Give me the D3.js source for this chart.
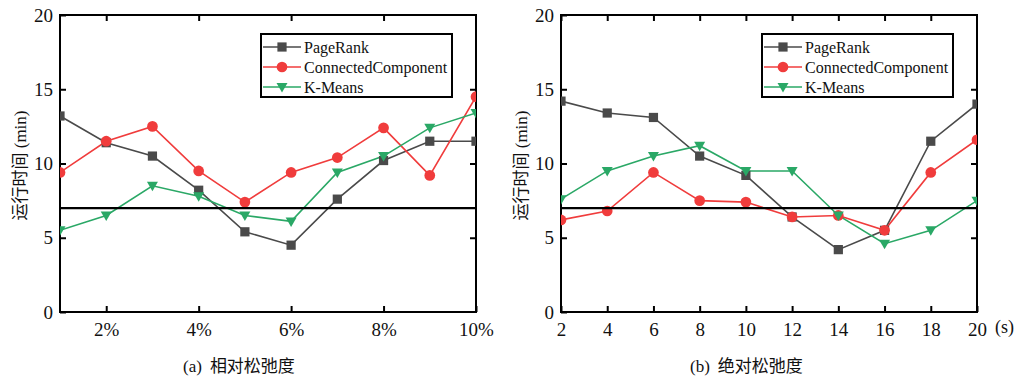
<!DOCTYPE html>
<html>
  <head>
    <meta charset="utf-8">
    <title> slack runtime </title>
    <script src="https://cdn.jsdelivr.net/npm/d3@7"></script>
    <style>
      body { margin: 0; background: #fff; }
      text { font-family: "Liberation Serif", "Noto Sans CJK SC", serif; fill: #111; }
      .cjk { font-family: "Noto Sans CJK SC", sans-serif; }
      .axis path { display: none; }
      .axis line { stroke: #000; stroke-width: 2; }
    </style>
  </head>
  <body>
    <script>
      // data
      var seriesNames = ['PageRank', 'ConnectedComponent', 'K-Means'];
      var seriesColors = ['#4a4a4a', '#f03c3c', '#2aa866'];

      var relX = [1, 2, 3, 4, 5, 6, 7, 8, 9, 10];
      var relPageRank = [13.2, 11.4, 10.5, 8.2, 5.4, 4.5, 7.6, 10.2, 11.5, 11.5];
      var relConnected = [9.4, 11.5, 12.5, 9.5, 7.4, 9.4, 10.4, 12.4, 9.2, 14.5];
      var relKMeans = [5.5, 6.5, 8.5, 7.8, 6.5, 6.1, 9.4, 10.5, 12.4, 13.4];
      var relTicks = [2, 4, 6, 8, 10];

      var absX = [2, 4, 6, 8, 10, 12, 14, 16, 18, 20];
      var absPageRank = [14.2, 13.4, 13.1, 10.5, 9.2, 6.4, 4.2, 5.5, 11.5, 14.0];
      var absConnected = [6.2, 6.8, 9.4, 7.5, 7.4, 6.4, 6.5, 5.5, 9.4, 11.6];
      var absKMeans = [7.6, 9.5, 10.5, 11.2, 9.5, 9.5, 6.5, 4.6, 5.5, 7.5];
      var absTicks = [2, 4, 6, 8, 10, 12, 14, 16, 18, 20];

      var yTicks = [0, 5, 10, 15, 20];
      var threshold = 7;

      var svg = d3.select('body').append('svg').attr('width', 1018).attr('height', 379);

      function drawPanel(id, left, right, xs, series, ticks, fmt, caption, capX, unit){
        var top = 15, bottom = 312;
        var x = d3.scaleLinear().domain([xs[0], xs[xs.length - 1]]).range([left, right]);
        var y = d3.scaleLinear().domain([0, 20]).range([bottom, top]);
        var g = svg.append('g');

        g.append('clipPath').attr('id', 'clip' + id).append('rect')
          .attr('x', left).attr('y', top).attr('width', right - left).attr('height', bottom - top);

        // axes, ticks point inward
        g.append('g').attr('class', 'axis').attr('transform', 'translate(0,' + bottom + ')')
          .call(d3.axisBottom(x).tickValues(ticks).tickFormat(fmt).tickSizeInner(-6).tickSizeOuter(0).tickPadding(11));
        g.append('g').attr('class', 'axis').attr('transform', 'translate(0,' + top + ')')
          .call(d3.axisTop(x).tickValues(ticks.filter(function(t){ return x(t) < right - 1; })).tickFormat('').tickSizeInner(-6).tickSizeOuter(0));
        g.append('g').attr('class', 'axis').attr('transform', 'translate(' + left + ',0)')
          .call(d3.axisLeft(y).tickValues(yTicks).tickSizeInner(-6).tickSizeOuter(0).tickPadding(7));
        g.append('g').attr('class', 'axis').attr('transform', 'translate(' + right + ',0)')
          .call(d3.axisRight(y).tickValues([5, 10, 15]).tickFormat('').tickSizeInner(-6).tickSizeOuter(0));
        g.selectAll('.axis').attr('font-family', null).attr('font-size', null);
        g.selectAll('.axis text').attr('fill', '#111').attr('font-size', 19);

        g.append('rect').attr('x', left).attr('y', top).attr('width', right - left).attr('height', bottom - top)
          .attr('fill', 'none').attr('stroke', '#000').attr('stroke-width', 2);

        // series
        var plot = g.append('g').attr('clip-path', 'url(#clip' + id + ')');
        var line = d3.line().x(function(d, i){ return x(xs[i]); }).y(function(d){ return y(d); });
        series.forEach(function(vals, s){
          plot.append('path').datum(vals).attr('d', line).attr('fill', 'none')
            .attr('stroke', seriesColors[s]).attr('stroke-width', 1.6);
        });
        series.forEach(function(vals, s){
          plot.selectAll('.m' + s).data(vals).enter().append('path')
            .attr('transform', function(d, i){ return 'translate(' + x(xs[i]) + ',' + y(d) + ')'; })
            .attr('d', marker(s)).attr('fill', seriesColors[s]);
        });

        // threshold line
        g.append('line').attr('x1', left).attr('x2', right).attr('y1', y(threshold)).attr('y2', y(threshold))
          .attr('stroke', '#000').attr('stroke-width', 2.2);

        // legend
        var lx = left + 201, ly = 34;
        g.append('rect').attr('x', lx).attr('y', ly).attr('width', 191).attr('height', 63)
          .attr('fill', '#fff').attr('stroke', '#000').attr('stroke-width', 2);
        seriesNames.forEach(function(name, s){
          var cy = ly + 13 + s * 20;
          g.append('line').attr('x1', lx + 2).attr('x2', lx + 40).attr('y1', cy).attr('y2', cy)
            .attr('stroke', seriesColors[s]).attr('stroke-width', 1.6);
          g.append('path').attr('transform', 'translate(' + (lx + 21) + ',' + cy + ')')
            .attr('d', marker(s)).attr('fill', seriesColors[s]);
          g.append('text').attr('x', lx + 43).attr('y', cy + 5.5).attr('font-size', 16).text(name);
        });

        // y title
        var yt = g.append('text').attr('transform', 'translate(' + (left - 34) + ',' + ((top + bottom) / 2 + 2) + ') rotate(-90)')
          .attr('text-anchor', 'middle').attr('font-size', 17);
        yt.append('tspan').attr('class', 'cjk').text('运行时间');
        yt.append('tspan').text(' (min)');

        // caption
        var ct = g.append('text').attr('x', capX).attr('y', 372).attr('font-size', 17);
        ct.append('tspan').text(caption[0]);
        ct.append('tspan').attr('class', 'cjk').attr('dx', 8).text(caption[1]);

        if(unit){
          g.append('text').attr('x', right + 18).attr('y', 333).attr('font-size', 18).text(unit);
        }
      }

      function marker(s){
        if(s === 0) return d3.symbol().type(d3.symbolSquare).size(85)();
        if(s === 1) return d3.symbol().type(d3.symbolCircle).size(90)();
        return 'M-5.5,-4L5.5,-4L0,5.5Z';
      }

      drawPanel('a', 60, 476, relX, [relPageRank, relConnected, relKMeans], relTicks,
        function(d){ return d + '%'; }, ['(a)', '相对松弛度'], 183, null);
      drawPanel('b', 561, 977, absX, [absPageRank, absConnected, absKMeans], absTicks,
        function(d){ return d; }, ['(b)', '绝对松弛度'], 690, '(s)');
    </script>
  </body>
</html>
